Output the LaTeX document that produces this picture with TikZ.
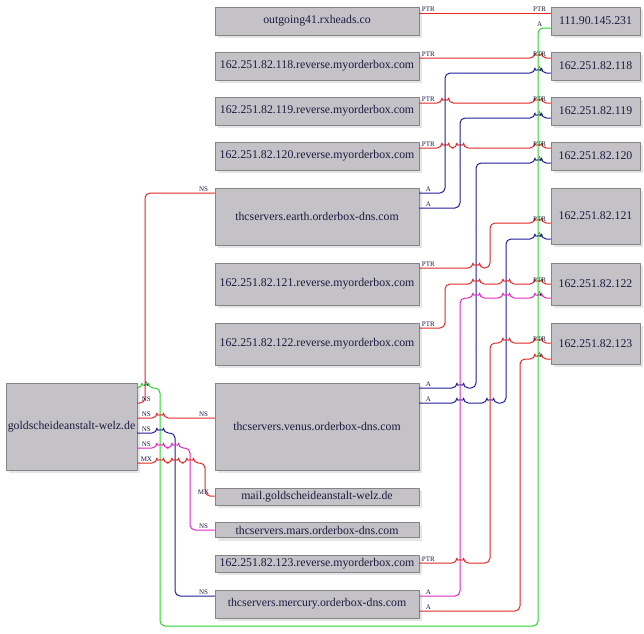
\documentclass[tikz,border=0pt]{standalone}
\usepackage{fontspec}
\setmainfont{Liberation Serif}
\usepackage{tikz}
\usetikzlibrary{shadows}
\usetikzlibrary{positioning}
\definecolor{boxfill}{HTML}{C4C2C6}
\definecolor{boxborder}{HTML}{858585}
\definecolor{boxshade}{HTML}{E6E6E6}
\definecolor{boxtext}{HTML}{1A1A40}
\definecolor{lnred}{HTML}{E02828}
\definecolor{lnblue}{HTML}{1E1E96}
\definecolor{lngreen}{HTML}{2AD22A}
\definecolor{lnmagenta}{HTML}{E028BE}
\newcommand{\hop}[2]{-- ({#1-3},#2) arc (180:0:3.2pt)}
\tikzset{
  hostbox/.style={draw=boxborder,fill=boxfill,line width=0.8pt,inner sep=0pt,
    font=\fontsize{11.8}{13}\selectfont,
    drop shadow={shadow xshift=3pt,shadow yshift=-3pt,fill=boxshade,opacity=1}},
  midbox/.style={hostbox,minimum width=204},
  ipbox/.style={hostbox,minimum width=89},
  rr/.style={line width=1pt,rounded corners=5pt,draw=#1},
  tl/.style={anchor=south,xshift=9pt,inner sep=1pt,font=\fontsize{7}{8}\selectfont},
  hl/.style={anchor=south,xshift=-11pt,inner sep=1pt,font=\fontsize{7}{8}\selectfont}
}
\begin{document}
\begin{tikzpicture}[color=boxtext,line cap=round,line join=round,x=1pt,y=-1pt]
\useasboundingbox (0,0) rectangle (644,633);
\node[hostbox,minimum width=131,minimum height=87] (gold) at (71.5,426.5) {goldscheideanstalt-welz.de};
\node[midbox,minimum height=28] (out41) at (317,21) {outgoing41.rxheads.co};
\node[midbox,minimum height=28] (rev118) at (317,66) {162.251.82.118.reverse.myorderbox.com};
\node[midbox,minimum height=28] (rev119) at (317,111) {162.251.82.119.reverse.myorderbox.com};
\node[midbox,minimum height=28] (rev120) at (317,156) {162.251.82.120.reverse.myorderbox.com};
\node[midbox,minimum height=57] (earth) at (317,216.5) {thcservers.earth.orderbox-dns.com};
\node[midbox,minimum height=42] (rev121) at (317,284) {162.251.82.121.reverse.myorderbox.com};
\node[midbox,minimum height=42] (rev122) at (317,344) {162.251.82.122.reverse.myorderbox.com};
\node[midbox,minimum height=87] (venus) at (317,426.5) {thcservers.venus.orderbox-dns.com};
\node[midbox,minimum height=17] (mail) at (317,496.5) {mail.goldscheideanstalt-welz.de};
\node[midbox,minimum height=15] (mars) at (317,530) {thcservers.mars.orderbox-dns.com};
\node[midbox,minimum height=17] (rev123) at (317,563.5) {162.251.82.123.reverse.myorderbox.com};
\node[midbox,minimum height=28] (mercury) at (317,604) {thcservers.mercury.orderbox-dns.com};
\node[ipbox,minimum height=28] (ip111) at (595.5,21) {111.90.145.231};
\node[ipbox,minimum height=28] (ip118) at (595.5,66) {162.251.82.118};
\node[ipbox,minimum height=28] (ip119) at (595.5,111) {162.251.82.119};
\node[ipbox,minimum height=28] (ip120) at (595.5,156) {162.251.82.120};
\node[ipbox,minimum height=56] (ip121) at (595.5,216) {162.251.82.121};
\node[ipbox,minimum height=42] (ip122) at (595.5,284) {162.251.82.122};
\node[ipbox,minimum height=41] (ip123) at (595.5,343.5) {162.251.82.123};
\fill[lnred] (out41.east |- 0,12.5) rectangle (ip111.west |- 0,13.6);
\node[tl] at (out41.east |- 0,13) {PTR};
\node[hl] at (ip111.west |- 0,13) {PTR};
\draw[rr=lnred] (rev118.east |- 0,58) node[tl] {PTR} \hop{538}{58} -- (ip118.west |- 0,58) node[hl] {PTR};
\draw[rr=lnred] (rev119.east |- 0,103) node[tl] {PTR} \hop{445}{103} \hop{538}{103} -- (ip119.west |- 0,103) node[hl] {PTR};
\draw[rr=lnred] (rev120.east |- 0,148) node[tl] {PTR} \hop{445}{148} \hop{460}{148} \hop{538}{148} -- (ip120.west |- 0,148) node[hl] {PTR};
\draw[rr=lnblue] (earth.east |- 0,193) node[tl] {A} -- (445,193) -- (445,73) \hop{538}{73} -- (ip118.west |- 0,73) node[hl] {A};
\draw[rr=lnblue] (earth.east |- 0,208) node[tl] {A} -- (460,208) -- (460,118) \hop{538}{118} -- (ip119.west |- 0,118) node[hl] {A};
\draw[rr=lnblue] (venus.east |- 0,388) node[tl] {A} \hop{460}{388} -- (476,388) -- (476,163) \hop{538}{163} -- (ip120.west |- 0,163) node[hl] {A};
\draw[rr=lnblue] (venus.east |- 0,403) node[tl] {A} \hop{460}{403} \hop{490}{403} -- (506,403) -- (506,239) \hop{538}{239} -- (ip121.west |- 0,239) node[hl] {A};
\draw[rr=lnred] (rev121.east |- 0,268) node[tl] {PTR} \hop{476}{268} -- (490,268) -- (490,223) \hop{538}{223} -- (ip121.west |- 0,223) node[hl] {PTR};
\draw[rr=lnred] (rev122.east |- 0,328) node[tl] {PTR} -- (445,328) -- (445,284) \hop{476}{284} \hop{506}{284} \hop{538}{284} -- (ip122.west |- 0,284) node[hl] {PTR};
\draw[rr=lnmagenta] (mercury.east |- 0,596) node[tl] {A} -- (460,596) -- (460,298) \hop{476}{298} \hop{506}{298} \hop{538}{298} -- (ip122.west |- 0,298) node[hl] {A};
\draw[rr=lnred] (rev123.east |- 0,563) node[tl] {PTR} \hop{460}{563} -- (490,563) -- (490,343) \hop{506}{343} \hop{538}{343} -- (ip123.west |- 0,343) node[hl] {PTR};
\draw[rr=lnred] (mercury.east |- 0,611) node[tl] {A} -- (520,611) -- (520,359) \hop{538}{359} -- (ip123.west |- 0,359) node[hl] {A};
\draw[rr=lnred] (gold.east |- 0,403) node[tl] {NS} -- (145,403) -- (145,193) -- (earth.west |- 0,193) node[hl] {NS};
\draw[rr=lngreen] (gold.east |- 0,388) node[tl] {A} \hop{145}{388} -- (160,388) -- (160,626) -- (538,626) -- (538,28) -- (ip111.west |- 0,28) node[hl] {A};
\draw[rr=lnred] (gold.east |- 0,418) node[tl] {NS} \hop{160}{418} -- (venus.west |- 0,418) node[hl] {NS};
\draw[rr=lnblue] (gold.east |- 0,433) node[tl] {NS} \hop{160}{433} -- (175,433) -- (175,596) -- (mercury.west |- 0,596) node[hl] {NS};
\draw[rr=lnmagenta] (gold.east |- 0,448) node[tl] {NS} \hop{160}{448} \hop{175}{448} -- (190,448) -- (190,530) -- (mars.west |- 0,530) node[hl] {NS};
\draw[rr=lnred] (gold.east |- 0,463) node[tl] {MX} \hop{160}{463} \hop{175}{463} \hop{190}{463} -- (205,463) -- (205,496) -- (mail.west |- 0,496) node[hl] {MX};
\end{tikzpicture}
\end{document}
